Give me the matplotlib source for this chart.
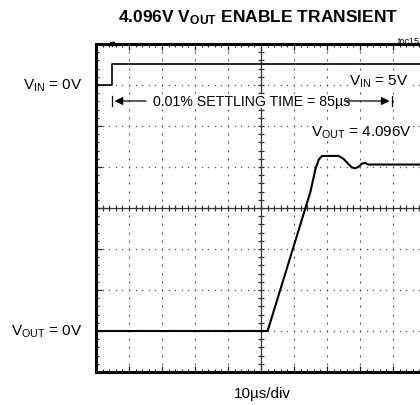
import numpy as np
import matplotlib
matplotlib.use("Agg")
import matplotlib.pyplot as plt

# scope traces: time in us, level in graticule divisions (0 = bottom)
vin_t = [0, 4.8, 4.8, 100]
vin_v = [7.0, 7.0, 7.52, 7.52]

vout_t = [0, 52, 65, 66.5, 67.5, 68.5, 73.5, 75, 76.5, 77.5, 78.5, 79.5, 80.5, 81.5, 82.5, 100]
vout_v = [1.0, 1.0, 4.4, 4.95, 5.18, 5.27, 5.27, 5.2, 5.07, 4.99, 4.97, 5.0, 5.08, 5.1, 5.06, 5.06]

settle_start = 4.8
settle_time = 85

plt.rcParams['font.family'] = ['Liberation Sans', 'DejaVu Sans']
plt.rcParams['mathtext.fontset'] = 'custom'
plt.rcParams['mathtext.rm'] = 'Liberation Sans'
plt.rcParams['mathtext.bf'] = 'Liberation Sans:bold'

fig = plt.figure(figsize=(4.2, 4.06), dpi=100)
ax = fig.add_axes([96 / 420, 33 / 406, 330 / 420, 328 / 406])
ax.set_xlim(0, 100)
ax.set_ylim(0, 8)

# graticule: dotted division lines
dot_c = '#555555'
for gx in range(10, 100, 10):
    if gx == 50:
        continue
    ys = np.arange(0.2, 8, 0.2)
    ax.plot(np.full_like(ys, gx), ys, ls='none', marker='|', ms=2, mew=0.8, color=dot_c)
for gy in range(1, 8):
    if gy == 4:
        continue
    xs = np.arange(2, 100, 2)
    ax.plot(xs, np.full_like(xs, gy, dtype=float), ls='none', marker='s', ms=0.9, mew=0, color=dot_c)

# center cross with small ticks
ax.axvline(50, color='#333333', lw=0.9)
ax.axhline(4, color='#333333', lw=0.9)
ys = np.arange(0.2, 8, 0.2)
ax.plot(np.full_like(ys, 50), ys, ls='none', marker='_', ms=4, mew=0.9, color='#333333')
xs = np.arange(2, 100, 2)
ax.plot(xs, np.full_like(xs, 4, dtype=float), ls='none', marker='|', ms=4, mew=0.9, color='#333333')

ax.set_xticks(np.arange(0, 101, 10))
ax.set_xticks(np.arange(0, 101, 2), minor=True)
ax.set_yticks(np.arange(0, 9, 1))
ax.set_yticks(np.arange(0, 8.01, 0.2), minor=True)
ax.tick_params(which='both', direction='in', top=True, right=True,
               labelbottom=False, labelleft=False, color='#222222')
ax.tick_params(which='major', length=4, width=0.9)
ax.tick_params(which='minor', length=2.2, width=0.8)
for s in ax.spines.values():
    s.set_linewidth(2.2)

# traces
ax.plot(vin_t, vin_v, color='black', lw=1.2)
ax.plot(vout_t, vout_v, color='black', lw=1.5)
ax.plot([settle_start], [8], marker='v', ms=3, color='black', clip_on=False)

# annotations
ax.text(85.8, 7.1, r'$\mathregular{V_{IN}}$ = 5V', fontsize=11, ha='center', va='center',
        bbox=dict(facecolor='white', edgecolor='none', pad=0.5))
ax.text(80.3, 5.85, r'$\mathregular{V_{OUT}}$ = 4.096V', fontsize=11, ha='center', va='center',
        bbox=dict(facecolor='white', edgecolor='none', pad=0.5))

sy = 6.61
ax.text(47.3, sy, '0.01% SETTLING TIME = 85µs', fontsize=10.2, ha='center', va='center',
        bbox=dict(facecolor='white', edgecolor='none', pad=0.3))
end = settle_start + settle_time
ax.annotate('', xy=(settle_start, sy), xytext=(16, sy),
            arrowprops=dict(arrowstyle='-|>', color='black', lw=0.9, mutation_scale=12))
ax.annotate('', xy=(end, sy), xytext=(75, sy),
            arrowprops=dict(arrowstyle='-|>', color='black', lw=0.9, mutation_scale=12))
ax.plot([settle_start, settle_start], [sy - 0.13, sy + 0.13], color='black', lw=0.9)
ax.plot([end, end], [sy - 0.13, sy + 0.13], color='black', lw=0.9)

ax.text(-4.2, 7.0, r'$\mathregular{V_{IN}}$ = 0V', fontsize=11, ha='right', va='center', clip_on=False)
ax.text(-4.2, 1.0, r'$\mathregular{V_{OUT}}$ = 0V', fontsize=11, ha='right', va='center', clip_on=False)

fig.text(258 / 420, 1 - 18 / 406, r'4.096V $\mathregular{V_{OUT}}$ ENABLE TRANSIENT',
         fontsize=12.5, fontweight='bold', ha='center', va='center')
fig.text(398 / 420, 1 - 41 / 406, 'toc15', fontsize=6.5, ha='left', va='center')
fig.text(262 / 420, 1 - 394 / 406, '10µs/div', fontsize=11, ha='center', va='center')

fig.savefig('out.png', dpi=100)
